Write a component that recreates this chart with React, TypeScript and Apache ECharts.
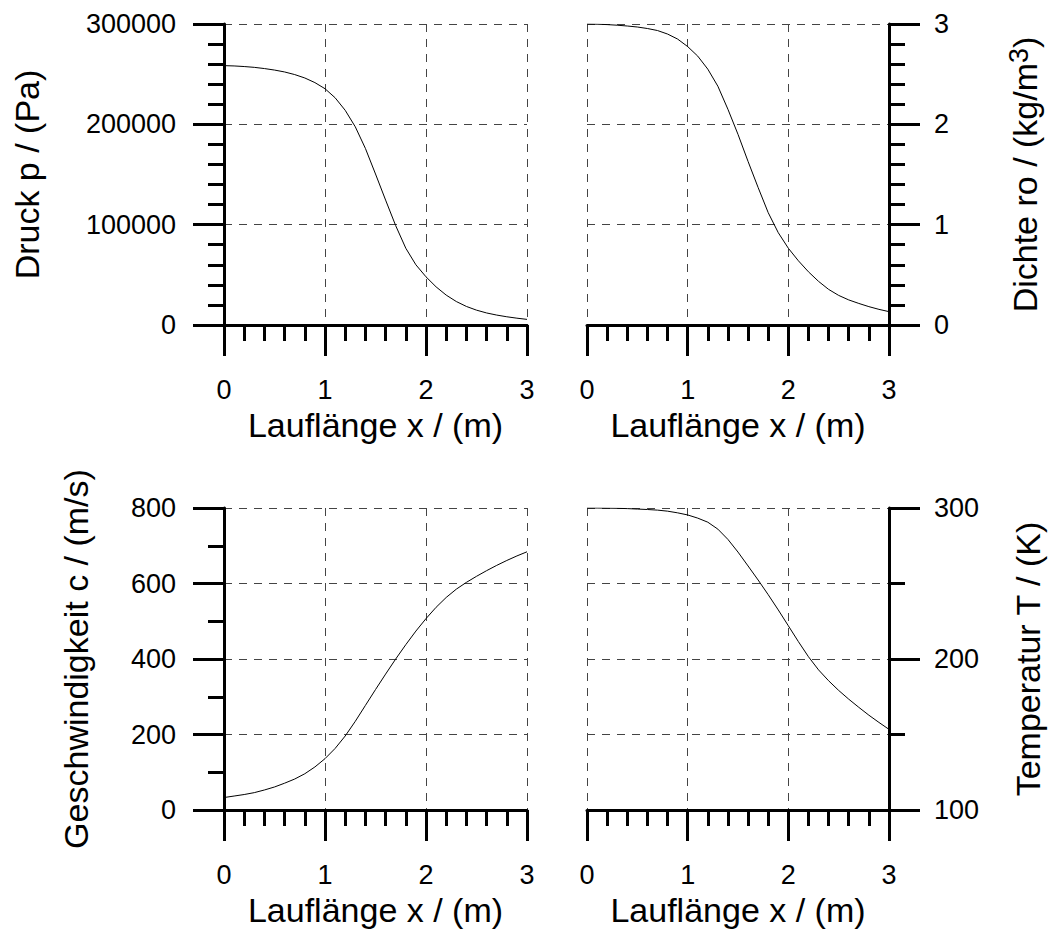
import React, { useEffect, useRef } from "react";
import * as echarts from "echarts";

// Lauflänge x / (m)
const xValues = [0, 0.1, 0.2, 0.3, 0.4, 0.5, 0.6, 0.7, 0.8, 0.9, 1.0, 1.1, 1.2, 1.3, 1.4, 1.5, 1.6, 1.7, 1.8, 1.9, 2.0, 2.1, 2.2, 2.3, 2.4, 2.5, 2.6, 2.7, 2.8, 2.9, 3.0];

// Druck p / (Pa)
const pressure = [258500, 258200, 257600, 256800, 255600, 254100, 252200, 249600, 246200, 241600, 235500, 226500, 214000, 197500, 176000, 150500, 124500, 99000, 76500, 60000, 48000, 38000, 29800, 23400, 18500, 14800, 12000, 9900, 8200, 6800, 5600];

// Dichte ro / (kg/m^3)
const density = [3.0, 2.998, 2.994, 2.988, 2.98, 2.97, 2.955, 2.935, 2.9, 2.85, 2.775, 2.68, 2.55, 2.38, 2.15, 1.9, 1.63, 1.37, 1.12, 0.92, 0.765, 0.64, 0.53, 0.435, 0.355, 0.295, 0.25, 0.215, 0.183, 0.156, 0.133];

// Geschwindigkeit c / (m/s)
const velocity = [33, 37, 41, 46, 53, 61, 71, 82, 96, 114, 136, 163, 196, 235, 277, 319, 360, 400, 438, 474, 507, 537, 563, 585, 603, 619, 634, 648, 661, 673, 684];

// Temperatur T / (K)
const temperature = [300, 300, 299.9, 299.8, 299.6, 299.3, 299.0, 298.6, 297.9, 296.8, 295.4, 293.3, 290.6, 286, 279.2, 270.8, 261.6, 252.3, 242.6, 232.5, 222, 211.5, 201.5, 192.8, 185.6, 179.2, 173.4, 168, 162.8, 158, 153.4];

const xAxisName = "Lauflänge x / (m)";

const FONT = "Liberation Sans, Arial, sans-serif";

const pair = (ys: number[]) => xValues.map((x, i) => [x, ys[i]]);

export default function App() {
  const ref = useRef<HTMLDivElement>(null);

  useEffect(() => {
    if (!ref.current) return;
    const chart = echarts.init(ref.current, undefined, { renderer: "svg" });

    const axisLine = { show: true, onZero: false, lineStyle: { color: "#000", width: 3 } };
    const axisTick = { show: true, length: 31, lineStyle: { color: "#000", width: 3 } };
    const gridLine = { show: true, lineStyle: { color: "#444", width: 1, type: [8, 7] as any } };
    const plain = (v: number) => String(v);
    const labelStyle = { color: "#000", fontSize: 27, fontFamily: FONT, lineHeight: 27, formatter: plain };
    const nameStyle = { color: "#000", fontSize: 34, fontFamily: FONT, lineHeight: 40 };

    const grids = [
      { left: 224, top: 24, width: 303, height: 301 },
      { left: 587, top: 24, width: 302, height: 301 },
      { left: 224, top: 508, width: 303, height: 302 },
      { left: 587, top: 508, width: 302, height: 302 },
    ];

    const xAxes = grids.map((_, i) => ({
      type: "value",
      gridIndex: i,
      min: 0,
      max: 3,
      interval: 1,
      axisLine,
      axisTick,
      minorTick: { show: true, splitNumber: 5, length: 16, lineStyle: { color: "#000", width: 3 } },
      splitLine: gridLine,
      axisLabel: { ...labelStyle, margin: 51 },
      name: xAxisName,
      nameLocation: "middle",
      nameGap: 80,
      nameTextStyle: nameStyle,
    }));

    const yAxes = [
      {
        type: "value",
        gridIndex: 0,
        position: "left",
        min: 0,
        max: 300000,
        interval: 100000,
        axisLine,
        axisTick,
        minorTick: { show: true, splitNumber: 5, length: 16, lineStyle: { color: "#000", width: 3 } },
        splitLine: gridLine,
        axisLabel: { ...labelStyle, margin: 48 },
        name: "Druck p / (Pa)",
        nameLocation: "middle",
        nameGap: 177,
        nameTextStyle: nameStyle,
      },
      {
        type: "value",
        gridIndex: 1,
        position: "right",
        min: 0,
        max: 3,
        interval: 1,
        axisLine,
        axisTick,
        minorTick: { show: true, splitNumber: 5, length: 16, lineStyle: { color: "#000", width: 3 } },
        splitLine: gridLine,
        axisLabel: { ...labelStyle, margin: 45 },
        name: "{base|Dichte ro / (kg/m}{sup|3}{base|)}",
        nameLocation: "middle",
        nameGap: 116,
        nameTextStyle: {
          ...nameStyle,
          rich: {
            base: { color: "#000", fontSize: 34, fontFamily: FONT, lineHeight: 40 },
            sup: { color: "#000", fontSize: 27, fontFamily: FONT, lineHeight: 12, verticalAlign: "top" },
          },
        },
      },
      {
        type: "value",
        gridIndex: 2,
        position: "left",
        min: 0,
        max: 800,
        interval: 200,
        axisLine,
        axisTick,
        minorTick: { show: true, splitNumber: 2, length: 16, lineStyle: { color: "#000", width: 3 } },
        splitLine: gridLine,
        axisLabel: { ...labelStyle, margin: 48 },
        name: "Geschwindigkeit c / (m/s)",
        nameLocation: "middle",
        nameGap: 128,
        nameTextStyle: nameStyle,
      },
      {
        type: "value",
        gridIndex: 3,
        position: "right",
        min: 100,
        max: 300,
        interval: 100,
        axisLine,
        axisTick,
        minorTick: { show: true, splitNumber: 2, length: 16, lineStyle: { color: "#000", width: 3 } },
        splitLine: gridLine,
        minorSplitLine: gridLine,
        axisLabel: { ...labelStyle, margin: 45 },
        name: "Temperatur T / (K)",
        nameLocation: "middle",
        nameGap: 119,
        nameTextStyle: nameStyle,
      },
    ];

    const lineSeries = (idx: number, ys: number[]) => ({
      type: "line",
      xAxisIndex: idx,
      yAxisIndex: idx,
      data: pair(ys),
      showSymbol: false,
      symbol: "none",
      smooth: false,
      lineStyle: { color: "#000", width: 1 },
      z: 3,
    });

    chart.setOption({
      animation: false,
      backgroundColor: "#fff",
      textStyle: { fontFamily: FONT },
      grid: grids,
      xAxis: xAxes,
      yAxis: yAxes,
      series: [
        lineSeries(0, pressure),
        lineSeries(1, density),
        lineSeries(2, velocity),
        lineSeries(3, temperature),
      ],
    });

    return () => chart.dispose();
  }, []);

  return (
    <div
      ref={ref}
      style={{ position: "fixed", left: 0, top: 0, width: 1053, height: 932, background: "#fff" }}
    />
  );
}
